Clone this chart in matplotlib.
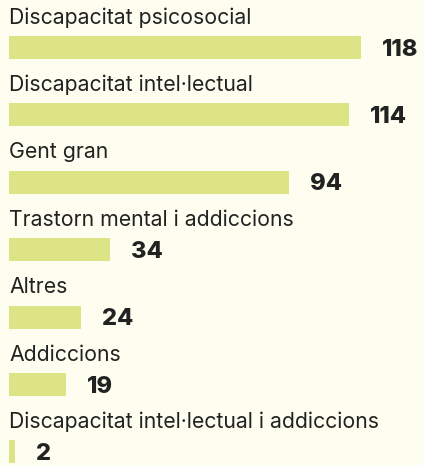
import matplotlib
matplotlib.use("Agg")
import matplotlib.pyplot as plt

plt.rcParams['font.family'] = ['Inter', 'DejaVu Sans']

categories = ['Discapacitat psicosocial', 'Discapacitat intel·lectual', 'Gent gran',
              'Trastorn mental i addiccions', 'Altres', 'Addiccions',
              'Discapacitat intel·lectual i addiccions']
values = [118, 114, 94, 34, 24, 19, 2]

bg = '#fefef0'
bar_color = '#dce486'
text_color = '#222222'

fig = plt.figure(figsize=(4.24, 4.65), dpi=100, facecolor=bg)
ax = fig.add_axes([0, 0, 1, 1])
ax.set_facecolor(bg)

# escala: 0 a 9 px de l'esquerra, 118 a 361 px
px = (361 - 9) / 118
row = 67.4
ax.set_xlim(-9 / px, (424 - 9) / px)
ax.set_ylim((465 - 47.5) / row, -47.5 / row)

pos = list(range(len(values)))
ax.barh(pos, values, height=23 / row, color=bar_color, left=0)

for i, (cat, v) in enumerate(zip(categories, values)):
    ax.text(0, i - 30 / row, cat, fontsize=15.3, color=text_color,
            va='center', ha='left')
    ax.text(v + 21 / px, i + 2 / row, str(v), fontsize=17, fontweight='heavy',
            color=text_color, va='center', ha='left')

ax.axis('off')
fig.savefig('out.png', dpi=100, facecolor=bg)
